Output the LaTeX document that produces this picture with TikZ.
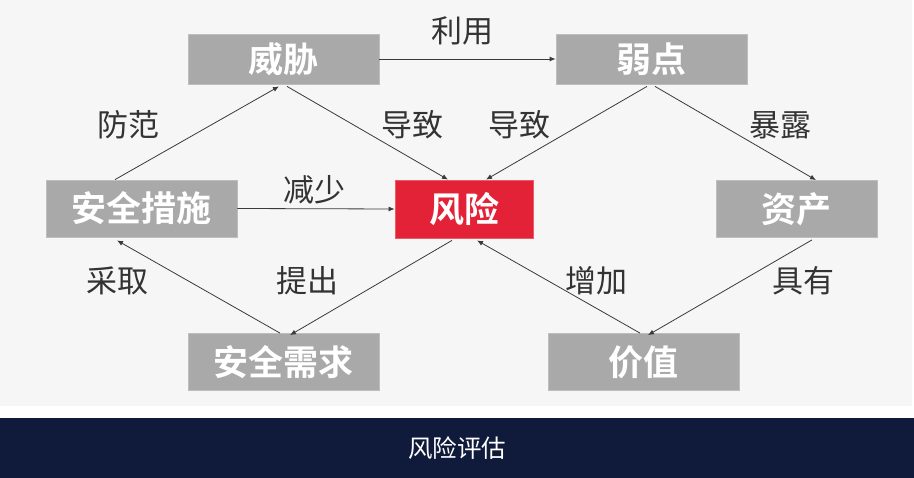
\documentclass[tikz,border=0pt]{standalone}
\usepackage{fontspec}
\usetikzlibrary{arrows.meta}
\newfontfamily\cjk{Noto Sans CJK SC}
\newfontfamily\cjkb{Noto Sans CJK SC Bold}
\definecolor{bggray}{HTML}{F6F6F6}
\definecolor{boxgray}{HTML}{A9A9A9}
\definecolor{boxedge}{HTML}{BEBEBE}
\definecolor{riskred}{HTML}{E32237}
\definecolor{riskedge}{HTML}{EC5A68}
\definecolor{navy}{HTML}{101A3A}
\definecolor{linec}{HTML}{3A3A3A}
\definecolor{labc}{HTML}{333333}
\tikzset{
  box/.style={rectangle, fill=boxgray, draw=boxedge, line width=0.8pt, inner sep=0pt,
    text=white, font=\cjkb\fontsize{35}{35}\selectfont},
  riskbox/.style={box, fill=riskred, draw=riskedge},
  lab/.style={text=labc, inner sep=0pt, font=\cjk\fontsize{31}{31}\selectfont},
  arr/.style={draw=linec, line width=0.8pt, -{Latex[length=6pt,width=5pt]}},
}
\begin{document}
\begin{tikzpicture}[x=1pt,y=-1pt]
\useasboundingbox (0,0) rectangle (914,478);
\fill[white] (0,0) rectangle (914,478);
\fill[bggray] (0,0) rectangle (912,406);
\fill[navy] (0,418) rectangle (914,478);
\node[text=white, inner sep=0pt, font=\cjk\fontsize{24.5}{24.5}\selectfont] (title) at (457,448) {风险评估};

\node[box, minimum width=191pt, minimum height=50pt] (threat) at (283.5,59) {威胁};
\node[box, minimum width=191pt, minimum height=50pt] (vuln) at (651.5,59) {弱点};
\node[box, minimum width=191pt, minimum height=57pt] (measures) at (141.5,208.5) {安全措施};
\node[riskbox, minimum width=138pt, minimum height=58pt] (risk) at (464,209) {风险};
\node[box, minimum width=161pt, minimum height=57pt] (asset) at (796.5,209) {资产};
\node[box, minimum width=191pt, minimum height=57pt] (req) at (283.5,362) {安全需求};
\node[box, minimum width=191pt, minimum height=57pt] (value) at (643.5,362) {价值};

\node[lab] (l1) at (462,31) {利用};
\node[lab] (l2) at (128,125) {防范};
\node[lab] (l3) at (412,125) {导致};
\node[lab] (l4) at (519,125) {导致};
\node[lab] (l5) at (780,125) {暴露};
\node[lab] (l6) at (314,190) {减少};
\node[lab] (l7) at (117,281) {采取};
\node[lab] (l8) at (307,281) {提出};
\node[lab] (l9) at (596,281) {增加};
\node[lab] (l10) at (803,281) {具有};

\draw[arr] (threat.east) -- (vuln.west);
\draw[arr] ([xshift=-26.5pt]measures.north) -- ([xshift=-4.5pt,yshift=-2pt]threat.south);
\draw[arr] ([xshift=3.5pt,yshift=-2pt]threat.south) -- ([xshift=-16pt]risk.north);
\draw[arr] ([xshift=-4.5pt,yshift=-2pt]vuln.south) -- ([xshift=22pt]risk.north);
\draw[arr] ([xshift=3.5pt,yshift=-2pt]vuln.south) -- ([xshift=19.5pt]asset.north);
\draw[arr] (measures.east) -- (risk.west);
\draw[arr] ([xshift=-12pt,yshift=-2pt]risk.south) -- ([xshift=6.5pt,yshift=-2pt]req.north);
\draw[arr] ([xshift=-3.5pt]req.north) -- ([xshift=-24.5pt,yshift=-3pt]measures.south);
\draw[arr] ([xshift=-3.5pt]value.north) -- ([xshift=13pt,yshift=-2pt]risk.south);
\draw[arr] ([xshift=15.5pt,yshift=-2pt]asset.south) -- ([xshift=4.5pt,yshift=-2pt]value.north);
\end{tikzpicture}
\end{document}
